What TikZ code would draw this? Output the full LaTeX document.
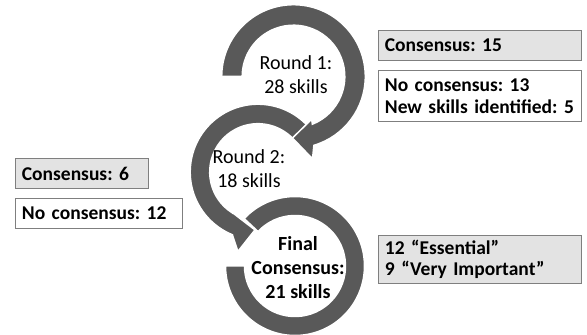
\documentclass[tikz,border=0pt]{standalone}
\usepackage{fontspec}
\setmainfont{Carlito}
\frenchspacing
\definecolor{ringgray}{HTML}{595959}
\definecolor{boxfill}{HTML}{E3E3E3}
\definecolor{boxline}{HTML}{7F7F7F}
\begin{document}
\begin{tikzpicture}[x=1pt,y=1pt,
    ring/.style={fill=ringgray,draw=white,line width=1.5pt},
    roundtext/.style={align=center,font=\fontsize{20}{24}\selectfont},
    infobox/.style={draw=boxline,line width=0.8pt,anchor=north west,inner xsep=6.5pt,
        align=left,font=\fontsize{19.5}{21.5}\selectfont\bfseries}]
\useasboundingbox (0,0) rectangle (587,335);

% Final ring (no head)
\begin{scope}[shift={(295,69)}]
\path[ring] (180:69.5) arc[start angle=180, end angle=497, radius=69.5pt]
    -- (497:50.5) arc[start angle=497, end angle=180, radius=50.5pt] -- cycle;
\end{scope}

% Round 2 arrow
\begin{scope}[shift={(258,163)}]
\path[ring] (42:67.8) arc[start angle=42, end angle=247.8, radius=67.8pt]
    -- (255.8:82) -- (267:58) -- (237.6:48)
    -- (237.8:48.3) arc[start angle=237.8, end angle=42, radius=48.3pt] -- cycle;
\end{scope}

% Round 1 arrow
\begin{scope}[shift={(293.5,258.5)}]
\path[ring] (180:71.8) arc[start angle=180, end angle=-73.5, radius=71.8pt]
    -- (-77:84.5) -- (-91:61.5) -- (-67:46.5)
    -- (-68.4:51.3) arc[start angle=-68.4, end angle=180, radius=51.3pt] -- cycle;
\end{scope}

% Texts inside the rings
\node[roundtext] (round1) at (296,260) {Round 1:\\28 skills};
\node[roundtext] (round2) at (249,166) {Round 2:\\18 skills};
\node[roundtext,font=\fontsize{20}{24}\selectfont\bfseries] (final) at (298,67) {Final\\Consensus:\\21 skills};

% Result boxes
\node[infobox,fill=boxfill,text width=190pt,minimum height=30pt] (cons15) at (378,305) {Consensus: 15};
\node[infobox,fill=white,text width=190pt,minimum height=51pt] (nocons13) at (378,264.5) {No consensus: 13\\New skills identified: 5};
\node[infobox,fill=boxfill,text width=120pt,minimum height=30pt] (cons6) at (15,176.7) {Consensus: 6};
\node[infobox,fill=white,text width=154pt,minimum height=30pt] (nocons12) at (15,137.3) {No consensus: 12};
\node[infobox,fill=boxfill,text width=190pt,minimum height=48pt] (ranks) at (378,100) {12 “Essential”\\9 “Very Important”};

\end{tikzpicture}
\end{document}
